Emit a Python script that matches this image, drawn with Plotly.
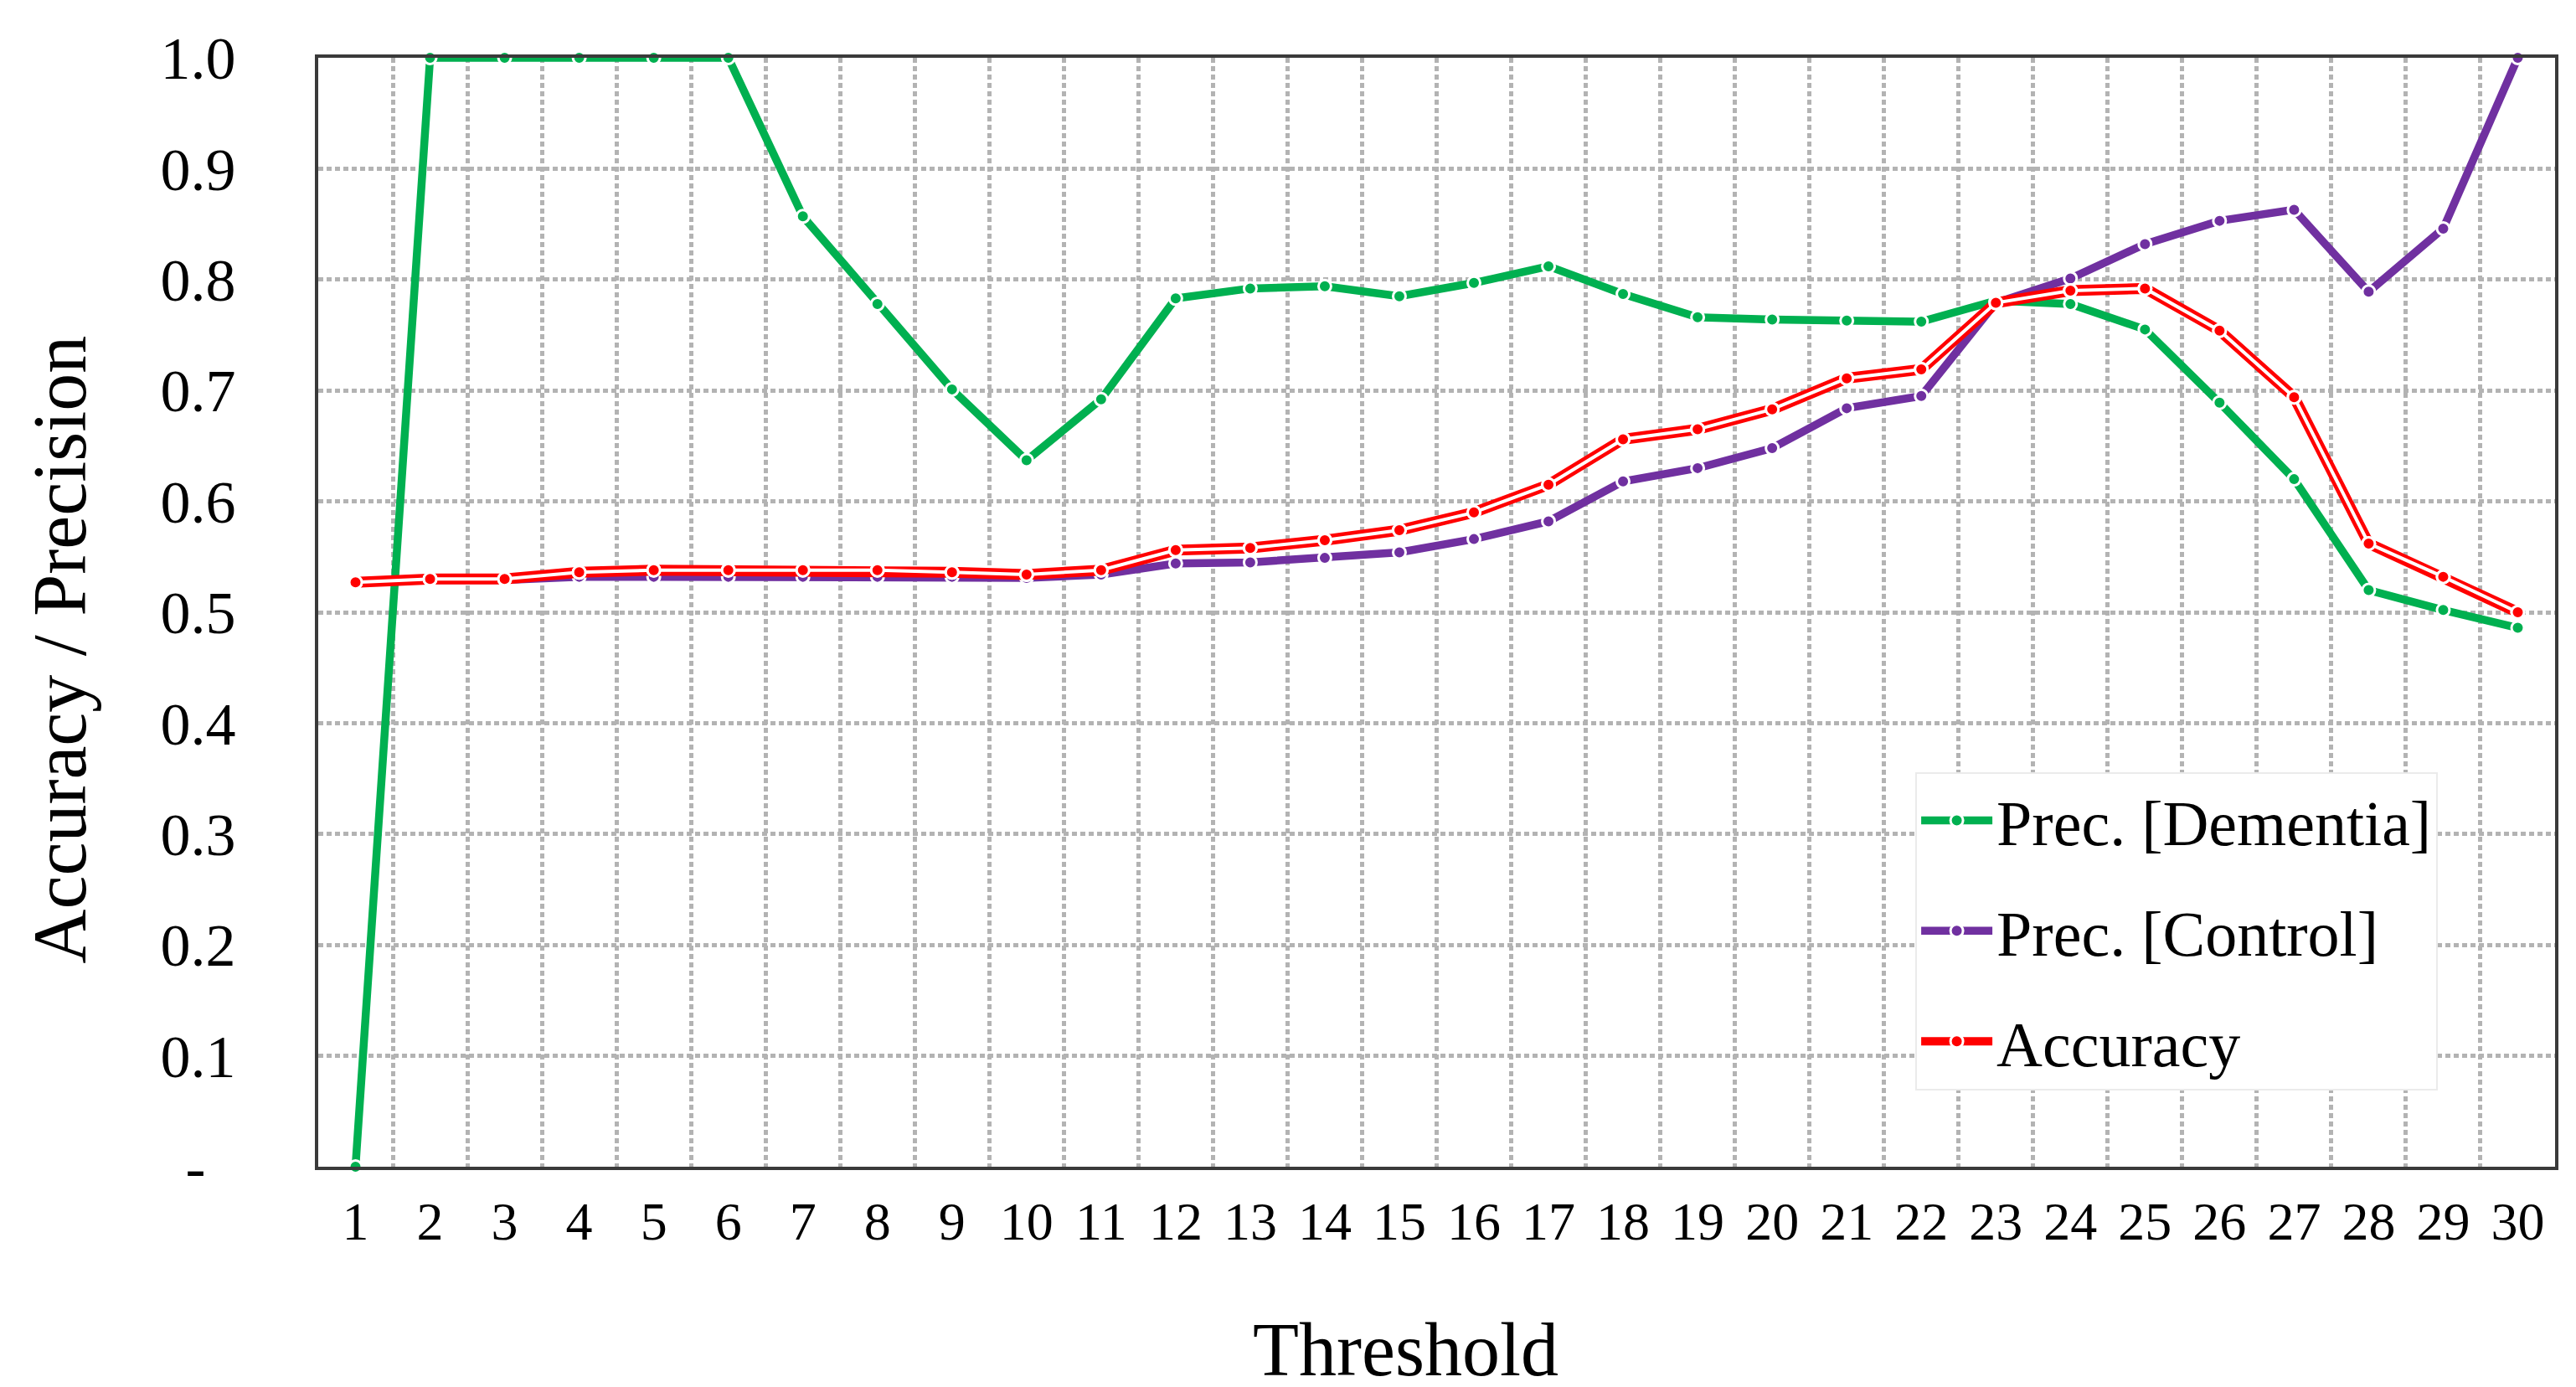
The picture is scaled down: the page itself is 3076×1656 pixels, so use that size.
import plotly.graph_objects as go

thresholds = list(range(1, 31))
prec_dementia = [0.0, 1.0, 1.0, 1.0, 1.0, 1.0, 0.857, 0.778, 0.701, 0.637,
                 0.692, 0.783, 0.792, 0.794, 0.785, 0.797, 0.812, 0.787, 0.766, 0.764,
                 0.763, 0.762, 0.781, 0.778, 0.755, 0.689, 0.620, 0.520, 0.502, 0.486]
prec_control = [0.527, 0.529, 0.529, 0.532, 0.532, 0.532, 0.532, 0.532, 0.532, 0.531,
                0.534, 0.544, 0.545, 0.549, 0.554, 0.566, 0.582, 0.618, 0.630, 0.648,
                0.684, 0.695, 0.779, 0.801, 0.832, 0.853, 0.863, 0.789, 0.846, 1.0]
accuracy = [0.527, 0.530, 0.530, 0.536, 0.538, 0.538, 0.538, 0.538, 0.536, 0.534,
            0.538, 0.556, 0.558, 0.565, 0.574, 0.590, 0.615, 0.656, 0.665, 0.683,
            0.711, 0.719, 0.779, 0.790, 0.792, 0.754, 0.694, 0.562, 0.532, 0.500]
x_ticktext = [str(t) for t in thresholds]
y_tickvals = [0.0, 0.1, 0.2, 0.3, 0.4, 0.5, 0.6, 0.7, 0.8, 0.9, 1.0]
y_ticktext = ["-\u00a0\u00a0", "0.1", "0.2", "0.3", "0.4", "0.5", "0.6", "0.7", "0.8", "0.9", "1.0"]

GREEN = "#00B050"
PURPLE = "#7030A0"
RED = "#FF0000"
FONT = "Liberation Serif"
GRID = dict(gridcolor="#b3b3b3", gridwidth=5, griddash="6px,4px")

fig = go.Figure()

def marker(color):
    return dict(symbol="circle", size=15, color=color, line=dict(color="white", width=3))

fig.add_trace(go.Scatter(x=thresholds, y=prec_dementia, name="Prec. [Dementia]",
                         mode="lines+markers", legendgroup="g1",
                         line=dict(color=GREEN, width=9.5), marker=marker(GREEN),
                         cliponaxis=False))
fig.add_trace(go.Scatter(x=thresholds, y=prec_control, name="Prec. [Control]",
                         mode="lines+markers", legendgroup="g2",
                         line=dict(color=PURPLE, width=9.5), marker=marker(PURPLE),
                         cliponaxis=False))
# Accuracy: compound (double) red line = thick red line + thin white centre line + markers
fig.add_trace(go.Scatter(x=thresholds, y=accuracy, name="Accuracy",
                         mode="lines+markers", legendgroup="g3",
                         line=dict(color=RED, width=13), marker=marker(RED),
                         cliponaxis=False))
fig.add_trace(go.Scatter(x=thresholds, y=accuracy, name="Accuracy",
                         mode="lines", legendgroup="g3", showlegend=False,
                         line=dict(color="white", width=4), hoverinfo="skip",
                         cliponaxis=False))
fig.add_trace(go.Scatter(x=thresholds, y=accuracy, name="Accuracy",
                         mode="markers", legendgroup="g3", showlegend=False,
                         marker=marker(RED), cliponaxis=False))

fig.update_layout(
    width=3076, height=1656,
    margin=dict(l=372, r=33, t=61, b=271),
    paper_bgcolor="white", plot_bgcolor="white",
    font=dict(family=FONT, color="black"),
    showlegend=True,
    legend=dict(
        x=0.714, y=0.356, xanchor="left", yanchor="top",
        bgcolor="white", bordercolor="#ebebeb", borderwidth=2,
        font=dict(family=FONT, size=76, color="black"),
        traceorder="grouped", tracegroupgap=30, itemwidth=85,
    ),
    xaxis=dict(
        range=[0.5, 30.5], autorange=False,
        tickmode="array", tickvals=thresholds, ticktext=x_ticktext, ticks="",
        showgrid=False,
        minor=dict(tickmode="linear", tick0=0.5, dtick=1, showgrid=True, ticks="", **GRID),
        showline=True, linecolor="#3a3a3a", linewidth=4, mirror=True,
        tickfont=dict(family=FONT, size=64, color="black"),
        ticklabelstandoff=6, zeroline=False,
    ),
    yaxis=dict(
        range=[0, 1.0], autorange=False, tickvals=y_tickvals, ticktext=y_ticktext, ticks="",
        showgrid=True, **GRID,
        showline=True, linecolor="#3a3a3a", linewidth=4, mirror=True,
        tickfont=dict(family=FONT, size=72, color="black"),
        ticklabelstandoff=80, zeroline=False,
    ),
    annotations=[
        dict(text="Accuracy / Precision", textangle=-90, xref="paper", yref="paper",
             x=-0.1155, y=0.4668, xanchor="center", yanchor="middle", showarrow=False,
             font=dict(family=FONT, size=90, color="black")),
        dict(text="Threshold", xref="paper", yref="paper",
             x=0.486, y=-0.1647, xanchor="center", yanchor="middle", showarrow=False,
             font=dict(family=FONT, size=90, color="black")),
    ],
)

fig.write_html("out.html")
